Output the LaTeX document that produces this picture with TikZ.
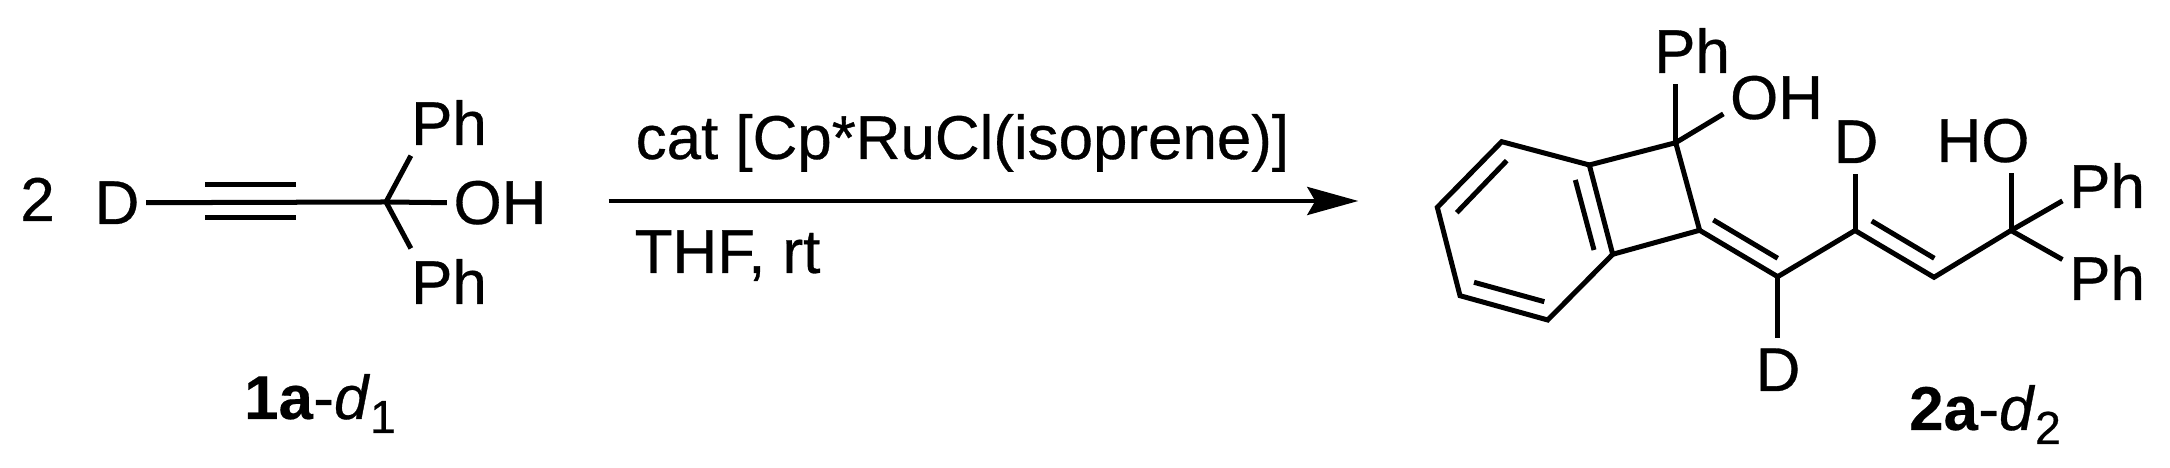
\documentclass[tikz,border=0pt]{standalone}
\usepackage{fontspec}
\setmainfont[FakeBold=0.5,BoldFeatures={FakeBold=0.3}]{Liberation Sans}
\usepackage{tikz}
\usetikzlibrary{arrows.meta}
\newcommand{\lsub}[1]{\raisebox{-0.14cm}{\fontsize{13.2pt}{14pt}\selectfont #1}}

\begin{document}
\begin{tikzpicture}[x=0.01cm, y=-0.01cm,
                        atom/.style={anchor=base, inner xsep=0.06cm, inner ysep=0.1cm, font=\fontsize{17.6pt}{20pt}\selectfont},
                        txt/.style={anchor=base west, inner sep=0pt, font=\fontsize{17.6pt}{20pt}\selectfont},
                        bond/.style={line width=0.05cm, line join=miter},
                        rarrow/.style={-{Stealth[length=0.51cm, width=0.28cm, inset=0.08cm]}, line width=0.042cm}]
        \useasboundingbox (0,0) rectangle (2170,468);
        % starting material
        \draw (37.5,221) node[atom] (two) {2}
              (117,224) node[atom] (d1) {D}
              (500,224) node[atom] (oh1) {OH}
              (449,145) node[atom] (ph1) {Ph}
              (449,304) node[atom] (ph2) {Ph}
              (320,419) node[atom] (lab1) {\textbf{1a}-\textit{d}\lsub{1}};
        \coordinate (q1) at (386,202);
        \coordinate (t1) at (205,185);
        \coordinate (t2) at (296,185);
        \coordinate (t3) at (205,218);
        \coordinate (t4) at (296,218);
        \draw[bond] (d1.east)--(q1);
        \draw[bond] (t1)--(t2);
        \draw[bond] (t3)--(t4);
        \draw[bond] (q1)--(oh1.west);
        \draw[bond] (q1)--(ph1.221);
        \draw[bond] (q1)--(ph2.139);
        % reaction arrow
        \coordinate (ar1) at (608.6,201);
        \coordinate (ar2) at (1358.3,201);
        \draw[rarrow] (ar1)--(ar2);
        \draw (635,159) node[txt] (cat) {cat [Cp*RuCl(isoprene)]}
              (634,273) node[txt] (cond) {THF, rt};
        % product
        \draw (1692,73) node[atom] (ph3) {Ph}
              (1776.5,119) node[atom] (oh2) {OH}
              (1856,163) node[atom] (d2) {D}
              (1983,162) node[atom] (ho) {HO}
              (2107,208) node[atom] (ph4) {Ph}
              (2107,300) node[atom] (ph5) {Ph}
              (1778,391) node[atom] (d3) {D}
              (1985,430) node[atom] (lab2) {\textbf{2a}-\textit{d}\lsub{2}};
        \coordinate (c1) at (1675.7,142.7);
        \coordinate (c2) at (1589.3,165);
        \coordinate (c3) at (1612.7,254.3);
        \coordinate (c4) at (1699.6,230.3);
        \coordinate (b1) at (1501.7,141.7);
        \coordinate (b2) at (1437.3,207.3);
        \coordinate (b3) at (1460,295.7);
        \coordinate (b4) at (1547.7,320);
        \coordinate (e1) at (1777.7,276.7);
        \coordinate (e2) at (1855,230.5);
        \coordinate (e3) at (1934,277.3);
        \coordinate (e4) at (2011,230.5);
        \draw[bond] (c2)--(b1)--(b2)--(b3)--(b4)--(c3)--cycle;
        \draw[bond] (c2)--(c1)--(c4)--(c3);
        \draw[bond] (c4)--(e1)--(e2)--(e3)--(e4);
        \draw[bond] (c1)--(c1 |- ph3.south);
        \draw[bond] (c1)--(oh2.197);
        \draw[bond] (e1)--(e1 |- d3.north);
        \draw[bond] (e2)--(e2 |- d2.south);
        \draw[bond] (e4)--(e4 |- ho.south);
        \draw[bond] (e4)--(ph4.199);
        \draw[bond] (e4)--(ph5.158);
        % inner lines of the double bonds
        \coordinate (i1) at (1575.3,180);
        \coordinate (i2) at (1594,250);
        \coordinate (i3) at (1506.7,160.7);
        \coordinate (i4) at (1456.7,212.7);
        \coordinate (i5) at (1474,282.3);
        \coordinate (i6) at (1544.3,301.7);
        \coordinate (i7) at (1713.3,220);
        \coordinate (i8) at (1777.7,258.3);
        \coordinate (i9) at (1871.7,221);
        \coordinate (i10) at (1934.3,258.3);
        \draw[bond] (i1)--(i2);
        \draw[bond] (i3)--(i4);
        \draw[bond] (i5)--(i6);
        \draw[bond] (i7)--(i8);
        \draw[bond] (i9)--(i10);
    \end{tikzpicture}
\end{document}
